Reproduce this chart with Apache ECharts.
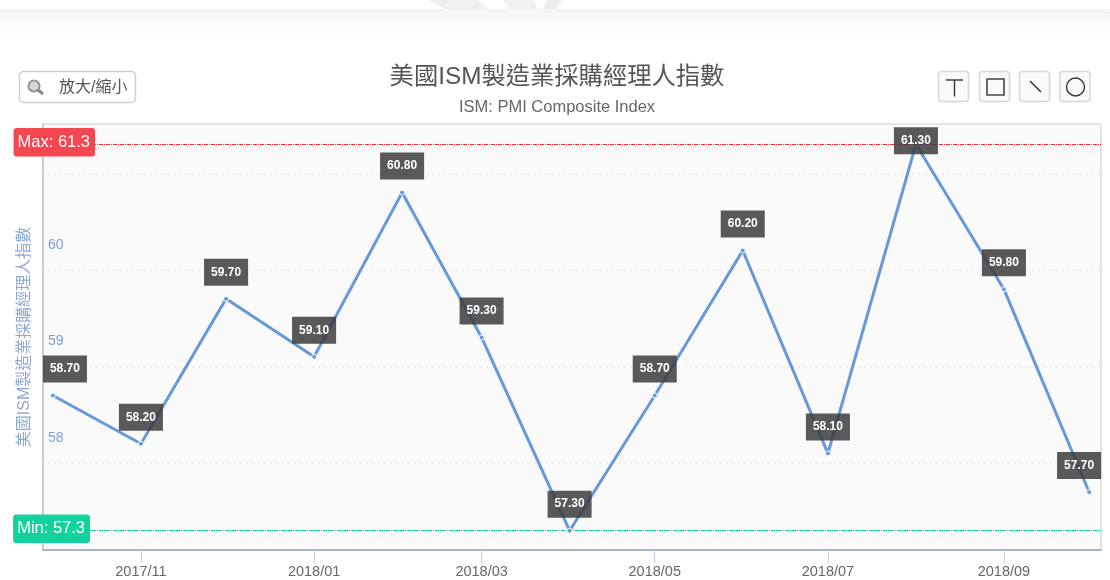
<!DOCTYPE html>
<html><head><meta charset="utf-8">
<style>html,body{margin:0;padding:0;background:#fff}#c{width:1110px;height:580px}</style>
<script src="https://cdn.jsdelivr.net/npm/echarts@6/dist/echarts.min.js"></script>
</head><body><div id="c"></div>
<script>
const dates = ['2017-10-01','2017-11-01','2017-12-01','2018-01-01','2018-02-01','2018-03-01','2018-04-01','2018-05-01','2018-06-01','2018-07-01','2018-08-01','2018-09-01','2018-10-01'];
const values = [58.7,58.2,59.7,59.1,60.8,59.3,57.3,58.7,60.2,58.1,61.3,59.8,57.7];
const xTicks = ['2017-11-01','2018-01-01','2018-03-01','2018-05-01','2018-07-01','2018-09-01'];
const yLabels = [58,59,60];
const yLines = [58,59,60,61];
const titleText = '美國ISM製造業採購經理人指數';
const subText = 'ISM: PMI Composite Index';
const zoomText = '放大/縮小';
const FONT = 'Arial, "Liberation Sans", "Noto Sans CJK TC", sans-serif';
const ts = d => new Date(d + 'T00:00:00Z').getTime();

const chart = echarts.init(document.getElementById('c'), null, {renderer:'canvas'});

function btn(x){ return {type:'rect',shape:{x:x,y:71.5,width:30,height:30,r:3},style:{fill:'#fafafa',stroke:'#d8d8d8',lineWidth:1.5}}; }
const g = [
  {type:'rect',shape:{x:0,y:9,width:1110,height:28},style:{fill:new echarts.graphic.LinearGradient(0,0,0,1,[{offset:0,color:'#f5f5f5'},{offset:1,color:'#ffffff'}])}},
  {type:'polygon',shape:{points:[[428,0],[478,0],[488,9],[445,9]]},style:{fill:'#f0f0f0'}},
  {type:'polygon',shape:{points:[[503,0],[535,0],[537,9],[510,9]]},style:{fill:'#f1f1f1'}},
  {type:'polygon',shape:{points:[[547,0],[562,0],[556,9],[543,9]]},style:{fill:'#eeeeee'}},
  {type:'rect',shape:{x:19.5,y:71.5,width:116,height:31,r:4},style:{fill:'#fff',stroke:'#cfcfcf',lineWidth:1.5}},
  {type:'circle',shape:{cx:34,cy:86,r:5.5},style:{fill:'#d8d8d8',stroke:'#999',lineWidth:2.2}},
  {type:'line',shape:{x1:38,y1:90,x2:43,y2:94},style:{stroke:'#888',lineWidth:3}},
  {type:'text',style:{x:59,y:88,text:zoomText,fill:'#555',font:'16px '+FONT,verticalAlign:'middle'}},
  btn(938.5),btn(979.5),btn(1019.5),btn(1060),
  {type:'line',shape:{x1:946,y1:80,x2:963,y2:80},style:{stroke:'#333',lineWidth:1.4}},
  {type:'line',shape:{x1:954.5,y1:80,x2:954.5,y2:96.5},style:{stroke:'#333',lineWidth:1.4}},
  {type:'rect',shape:{x:987,y:79,width:17,height:16},style:{fill:'none',stroke:'#444',lineWidth:1.6}},
  {type:'line',shape:{x1:1030,y1:81,x2:1041,y2:92},style:{stroke:'#333',lineWidth:1.5}},
  {type:'circle',shape:{cx:1075.5,cy:87,r:9},style:{fill:'none',stroke:'#333',lineWidth:1.4}}
].map(e=>Object.assign({silent:true,z:100},e));

const n = values.length;
const maxIdx = values.indexOf(Math.max(...values));
const labelOffsets = {0:[12,0],[maxIdx]:[0,23],[n-1]:[-10,0]};

chart.setOption({
  animation:false,
  backgroundColor:'#fff',
  graphic:g,
  title:{text:titleText,subtext:subText,left:552,textAlign:'center',top:57,itemGap:7,
    textStyle:{fontFamily:FONT,fontWeight:'normal',fontSize:24.3,color:'#555',lineHeight:30},
    subtextStyle:{fontFamily:FONT,fontSize:16.5,color:'#666'}},
  grid:{left:43,right:9,top:124,bottom:30,show:true,backgroundColor:'#fafafa',borderColor:'#ccc',borderWidth:1},
  xAxis:{type:'value',min:ts('2017-10-01')-3.5*864e5,max:ts('2018-10-01')+4.2*864e5,
    axisLine:{onZero:false,lineStyle:{color:'#aab4c8',width:2}},
    axisTick:{show:true,length:13,lineStyle:{color:'#c4d0e0',width:1},customValues:xTicks.map(ts)},
    axisLabel:{color:'#666',fontFamily:FONT,fontSize:14.5,margin:15,
      customValues:xTicks.map(ts),
      formatter:v=>{const d=new Date(v);return d.getUTCFullYear()+'/'+String(d.getUTCMonth()+1).padStart(2,'0');}},
    splitLine:{show:false}},
  yAxis:{type:'value',min:57.1,max:61.51,
    name:titleText,nameLocation:'middle',nameGap:10,nameRotate:90,
    nameTextStyle:{color:'#8fa9d6',fontFamily:FONT,fontSize:16},
    axisLine:{show:true,lineStyle:{color:'#ccc',width:2}},
    axisTick:{show:false,customValues:yLines},
    axisLabel:{inside:true,color:'#7f9fd3',fontFamily:FONT,fontSize:14,margin:5,verticalAlign:'bottom',padding:[0,0,18,0],customValues:yLabels,
      formatter:v=>String(v)},
    splitLine:{show:false}},
  series:[
   {type:'line',data:dates.map((d,i)=>{
      const it={value:[ts(d),values[i]]};
      if(labelOffsets[i]) it.label={offset:labelOffsets[i]};
      return it;}),
    symbol:'circle',symbolSize:5,showAllSymbol:true,clip:false,
    lineStyle:{color:'#6798d8',width:3},
    itemStyle:{color:'#6798d8',borderColor:'#fff',borderWidth:1},
    label:{show:true,position:'top',distance:10,formatter:p=>p.value[1].toFixed(2),
      color:'#fff',fontFamily:FONT,fontWeight:'bold',fontSize:12,
      backgroundColor:'rgba(60,60,60,0.85)',padding:[7,7,7,7],lineHeight:13},
    markLine:{silent:true,symbol:'none',animation:false,precision:1,z:1,
      data:[
       {type:'max',valueDim:'y',lineStyle:{color:'#f02a35'},
        label:{formatter:'Max: {c}',backgroundColor:'#f5474f',offset:[52,-2]}},
       {type:'min',valueDim:'y',lineStyle:{color:'#10cf98'},
        label:{formatter:'Min: {c}',backgroundColor:'#14d29c',offset:[47,-2]}}
      ],
      lineStyle:{type:[4,1,1,1],width:1.2,opacity:1},
      label:{show:true,position:'start',color:'#fff',fontFamily:FONT,fontSize:16.5,padding:[6,5,6,4],borderRadius:3,distance:0}}
   },
   {type:'line',silent:true,data:[],z:1,
    markLine:{silent:true,symbol:'none',animation:false,z:1,label:{show:false},
      lineStyle:{color:'#ddd',type:[1,5],width:1.5,opacity:1},
      data:yLines.map(v=>({yAxis:v}))}}
  ]
});
</script></body></html>
